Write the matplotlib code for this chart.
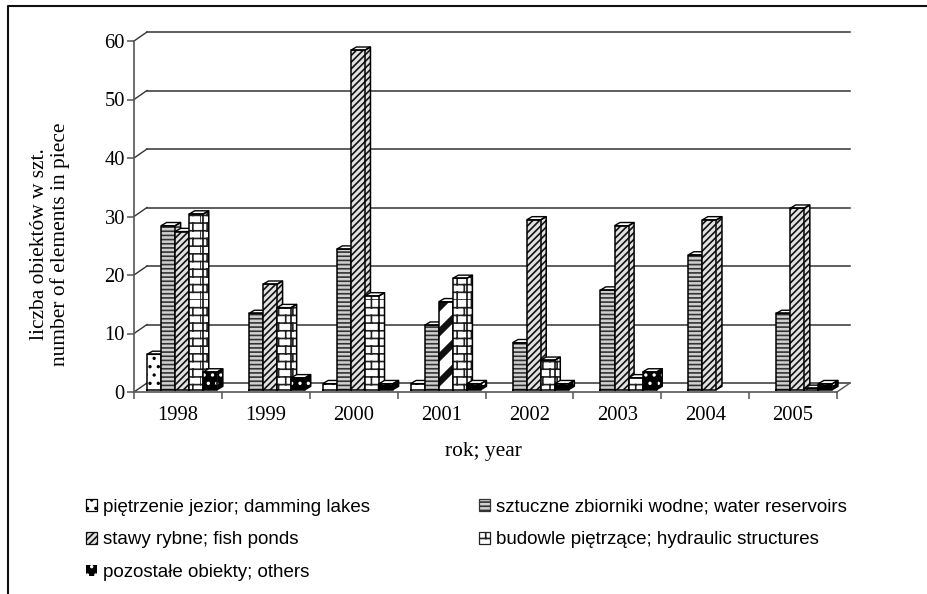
import warnings
import numpy as np
import matplotlib
matplotlib.use("Agg")
import matplotlib.pyplot as plt
import matplotlib.hatch as mhatch
from matplotlib.lines import Line2D
from matplotlib.patches import Patch
from matplotlib.path import Path

warnings.filterwarnings("ignore")

# Datos
years = ["1998", "1999", "2000", "2001", "2002", "2003", "2004", "2005"]
damming = [6, 0, 1, 1, 0, 0, 0, 0]
reservoirs = [28, 13, 24, 11, 8, 17, 23, 13]
ponds = [27, 18, 58, 15, 29, 28, 29, 31]
structures = [30, 14, 16, 19, 5, 2, 0, 0.2]
others = [3, 2, 1, 1, 1, 3, 0, 1]
y_ticks = [0, 10, 20, 30, 40, 50, 60]
labels = ["piętrzenie jezior; damming lakes", "sztuczne zbiorniki wodne; water reservoirs",
          "stawy rybne; fish ponds", "budowle piętrzące; hydraulic structures",
          "pozostałe obiekty; others"]


# Rayado de ladrillos y bandas anchas, no existen en matplotlib
class BrickHatch(mhatch.HatchPatternBase):
    rows = 13
    cols = 7

    def __init__(self, hatch, density):
        self.on = hatch.count("B") > 0
        self.num_vertices = (self.rows + self.rows * self.cols) * 2 if self.on else 0

    def set_vertices_and_codes(self, vertices, codes):
        pts = []
        for r in range(self.rows):
            y0, y1 = r / self.rows, (r + 1) / self.rows
            pts += [(0, y0), (1, y0)]
            for c in range(self.cols):
                x = (c + (0.5 if r % 2 else 0)) / self.cols
                pts += [(x, y0), (x, y1)]
        vertices[:] = pts
        codes[0::2] = Path.MOVETO
        codes[1::2] = Path.LINETO


class WideHatch(mhatch.HatchPatternBase):
    bands = 4

    def __init__(self, hatch, density):
        self.on = hatch.count("F") > 0
        self.num_vertices = 5 * 2 * self.bands if self.on else 0

    def set_vertices_and_codes(self, vertices, codes):
        pts = []
        for k in range(-self.bands, self.bands):
            y = k / self.bands
            pts += [(0, y), (1, y + 1), (1, y + 1.07), (0, y + 0.07), (0, y)]
        vertices[:] = pts
        codes[0::5] = Path.MOVETO
        codes[1::5] = Path.LINETO
        codes[2::5] = Path.LINETO
        codes[3::5] = Path.LINETO
        codes[4::5] = Path.CLOSEPOLY


mhatch._hatch_types += [BrickHatch, WideHatch]

plt.rcParams["hatch.linewidth"] = 1.2
plt.rcParams["font.family"] = "Liberation Serif"

fig = plt.figure(figsize=(9.27, 5.94), dpi=100)
# Marco: solo arriba e izquierda, el resto queda cortado
fig.add_artist(Line2D([8 / 927, 8 / 927, 1], [0, 1 - 6 / 594, 1 - 6 / 594], color="#111111", lw=1.5))
ax = fig.add_axes([134 / 927, (594 - 392) / 594, 703 / 927, 351 / 594])
ax.set_xlim(0, 8)
ax.set_ylim(0, 60)
for s in ["top", "right"]:
    ax.spines[s].set_visible(False)
for s in ["left", "bottom"]:
    ax.spines[s].set_color("#555555")
    ax.spines[s].set_linewidth(1.2)

px_x = 703 / 8
px_y = 351 / 60
back_dx, back_dy = 13 / px_x, 9 / px_y  # fondo de la caja 3D
bar_w = 14.07 / px_x
start = 13 / px_x
floor = 2.5 / px_y
dep_x, dep_y = 5.5 / px_x, 3.2 / px_y

# Pared del fondo
for v in y_ticks:
    ax.plot([back_dx, 8 + back_dx], [v + back_dy, v + back_dy], color="#333333", lw=1.1, clip_on=False, zorder=1)
    ax.plot([0, back_dx], [v, v + back_dy], color="#333333", lw=1.0, clip_on=False, zorder=1)
ax.plot([8, 8 + back_dx], [0, back_dy], color="#555555", lw=1.0, clip_on=False, zorder=1)

series = [
    (damming, "white", "black", ".."),
    (reservoirs, "#d0d0d0", "#333333", "----"),
    (ponds, "#e2e2e2", "#111111", "/////"),
    (structures, "white", "#222222", "B"),
    (others, "black", "white", ".."),
]

x_pos = np.arange(len(years))
for i, (vals, face, edge, hatch) in enumerate(series):
    for j, v in enumerate(vals):
        if v == 0:
            continue
        h = "F" if (i == 2 and j == 3) else hatch
        x = x_pos[j] + start + i * bar_w
        z = 3 + i
        ax.bar(x, v, bar_w, bottom=floor, align="edge", facecolor="white" if h == "F" else face, edgecolor=edge,
               hatch=h, lw=0, zorder=z, clip_on=False)
        # Contorno, cara lateral y tapa
        top = floor + v
        right = x + bar_w
        ax.fill([right, right + dep_x, right + dep_x, right],
                [floor, floor + dep_y, top + dep_y, top],
                facecolor=face, edgecolor=edge, hatch=h, lw=0, zorder=z, clip_on=False)
        ax.fill([x, x + dep_x, right + dep_x, right], [top, top + dep_y, top + dep_y, top],
                facecolor="white", edgecolor="black", lw=1.0, zorder=z, clip_on=False)
        ax.plot([x, x, right, right, x], [floor, top, top, floor, floor], color="black", lw=1.1, zorder=z,
                clip_on=False)
        ax.plot([right, right + dep_x, right + dep_x, right], [floor, floor + dep_y, top + dep_y, top],
                color="black", lw=1.1, zorder=z, clip_on=False)

# Ejes
ax.set_yticks(y_ticks)
ax.set_xticks(np.arange(9))
ax.set_xticklabels([])
ax.set_xticks(x_pos + 0.5, labels=years, minor=True)
ax.tick_params(axis="both", which="major", length=5, width=1.1, color="#555555", labelsize=14.8)
ax.tick_params(axis="x", which="minor", length=0, labelsize=14.8, pad=10)
ax.tick_params(axis="y", pad=1.5)
ax.set_xlabel("rok; year", fontsize=15.4, labelpad=12, x=(483 - 134) / 703)
fig.text(50 / 927, 1 - 244 / 594, "liczba obiektów w szt.\nnumber of elements in piece", rotation=90,
         ha="center", va="center", ma="center", fontsize=15.4, linespacing=1.05)

# Leyenda
handles = [Patch(facecolor=s[1], edgecolor=s[2], hatch=s[3], lw=0.9 if s[1] != "black" else 0) for s in series]
handles[0].set_edgecolor("black")
handles = [handles[0], handles[2], handles[4], handles[1], handles[3]]
order = [labels[0], labels[2], labels[4], labels[1], labels[3]]
fig.legend(handles, order, ncol=2, loc="upper left", bbox_to_anchor=(86 / 927, 1 - 498.6 / 594),
           frameon=False, prop={"family": "Liberation Sans", "size": 13.5}, borderpad=0, borderaxespad=0,
           handlelength=0.59, handleheight=0.59, handletextpad=0.32, labelspacing=0.84, columnspacing=5.8)

fig.savefig("out.png", dpi=100)
